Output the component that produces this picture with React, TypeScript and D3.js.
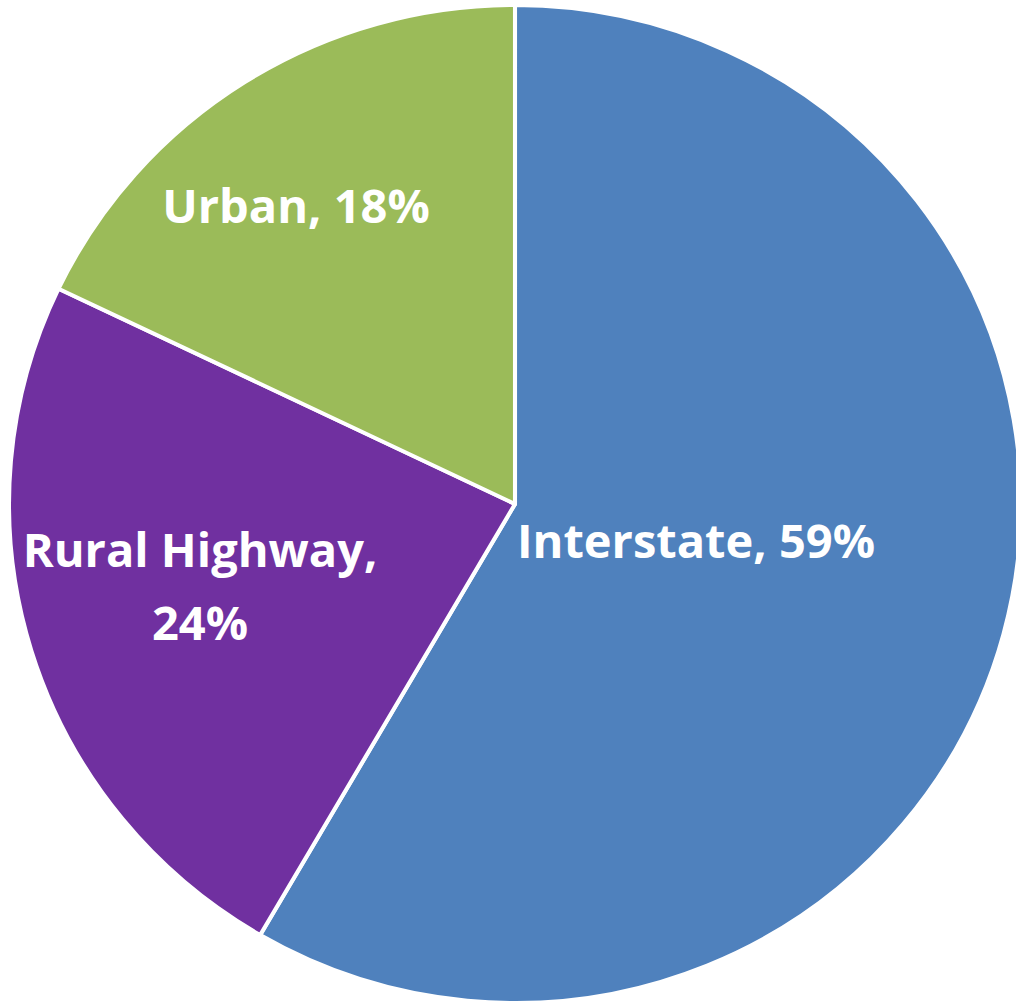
import React from "react";
import * as d3 from "d3";

const categories = ["Interstate", "Rural Highway", "Urban"];
const values = [58.4, 23.7, 17.9];
const labelText = [["Interstate, 59%"], ["Rural Highway,", "24%"], ["Urban, 18%"]];
const colors = ["#4F81BD", "#7030A0", "#9BBB59"];

// label anchor positions (layout)
const labelPos = [
  { x: 696, y: 558 },
  { x: 200, y: 567 },
  { x: 296, y: 223 },
];

export default function App() {
  const W = 1016, H = 1006;
  const cx = 515, cy = 504, r = 499;
  const pie = d3.pie<number>().sort(null).value((d) => d);
  const arcs = pie(values);
  const arc = d3.arc<d3.PieArcDatum<number>>().innerRadius(0).outerRadius(r);
  return (
    <svg width={W} height={H} style={{ position: "absolute", left: 0, top: 0 }}>
      <rect width={W} height={H} fill="#fff" />
      <g transform={`translate(${cx},${cy}) scale(1.014,1)`}>
        {arcs.map((a, i) => (
          <path key={categories[i]} d={arc(a) || ""} fill={colors[i]} stroke="#fff" strokeWidth={4} strokeLinejoin="round" />
        ))}
      </g>
      {labelText.map((lines, i) => (
        <text key={i} textAnchor="middle" fontFamily="'Open Sans', Lato, sans-serif" fontWeight={700} fontSize={47} fill="#fff">
          {lines.map((l, j) => (
            <tspan key={j} x={labelPos[i].x} y={labelPos[i].y + j * 73}>{l}</tspan>
          ))}
        </text>
      ))}
    </svg>
  );
}
